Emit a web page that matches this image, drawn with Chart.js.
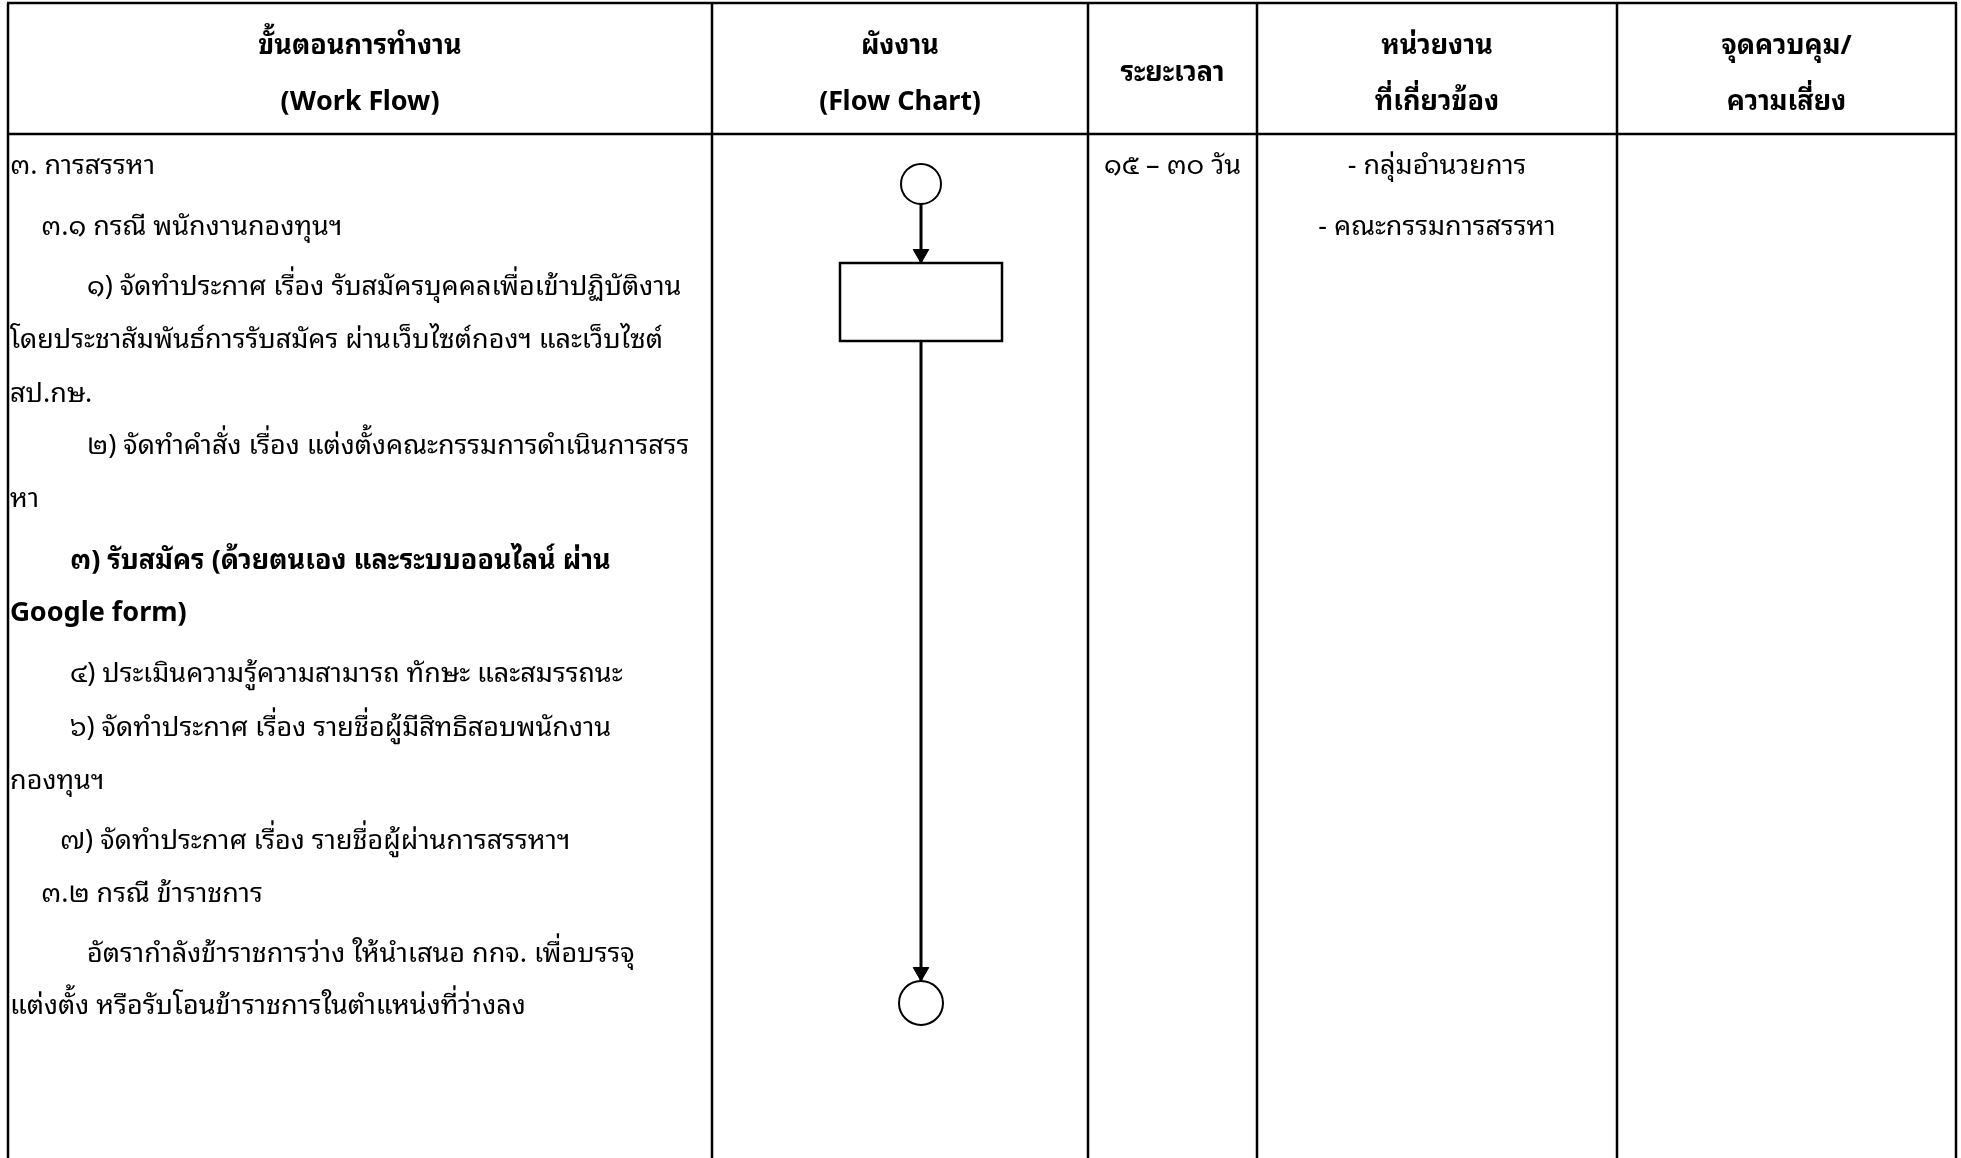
<!DOCTYPE html>
<html><head><meta charset="utf-8">
<script src="https://cdn.jsdelivr.net/npm/chart.js@4/dist/chart.umd.min.js"></script>
<style>html,body{margin:0;padding:0;background:#fff;overflow:hidden}#wrap{width:1961px;height:1158px}</style>
</head><body><div id="wrap"><canvas id="c" width="1961" height="1158"></canvas></div>
<script>
// ---- content ----
const headerTitles = [
  ["ขั้นตอนการทำงาน", "(Work Flow)"],
  ["ผังงาน", "(Flow Chart)"],
  ["ระยะเวลา"],
  ["หน่วยงาน", "ที่เกี่ยวข้อง"],
  ["จุดควบคุม/", "ความเสี่ยง"]
];
const workFlowLines = [
  "๓. การสรรหา",
  "๓.๑ กรณี พนักงานกองทุนฯ",
  "๑) จัดทำประกาศ เรื่อง รับสมัครบุคคลเพื่อเข้าปฏิบัติงาน",
  "โดยประชาสัมพันธ์การรับสมัคร ผ่านเว็บไซต์กองฯ และเว็บไซต์",
  "สป.กษ.",
  "๒) จัดทำคำสั่ง เรื่อง แต่งตั้งคณะกรรมการดำเนินการสรร",
  "หา",
  "๓) รับสมัคร (ด้วยตนเอง และระบบออนไลน์ ผ่าน",
  "Google form)",
  "๔) ประเมินความรู้ความสามารถ ทักษะ และสมรรถนะ",
  "๖) จัดทำประกาศ เรื่อง รายชื่อผู้มีสิทธิสอบพนักงาน",
  "กองทุนฯ",
  "๗) จัดทำประกาศ เรื่อง รายชื่อผู้ผ่านการสรรหาฯ",
  "๓.๒ กรณี ข้าราชการ",
  "อัตรากำลังข้าราชการว่าง ให้นำเสนอ กกจ. เพื่อบรรจุ",
  "แต่งตั้ง หรือรับโอนข้าราชการในตำแหน่งที่ว่างลง"
];
const workFlowBold = [0,0,0,0,0,0,0,1,1,0,0,0,0,0,0,0];
const workFlowIndentLevel = [0,1,4,0,0,4,0,3,0,3,3,0,2,1,4,0];
const durationLines = ["๑๕ – ๓๐ วัน"];
const unitLines = ["- กลุ่มอำนวยการ", "- คณะกรรมการสรรหา"];
const flowNodes = ["start", "process", "end"];

// ---- layout (reference pixel units, mapped through the chart scales) ----
const L = {
  W: 1961, H: 1158,
  colEdges: [8, 712, 1088, 1257, 1617, 1956],
  top: 3, headerBottom: 134,
  headerLineY: [[46, 102], [46, 102], [73], [46, 102], [46, 102]],
  bodyLineY: [166, 227, 287, 340, 394, 446, 499, 561, 613, 674, 728, 781, 841, 894, 954, 1006],
  indentPx: [0, 31, 50, 60, 77],
  textPad: 2,
  nodeX: 921,
  nodeY: { start: 184, process: 302, end: 1003 },
  circleR: 22, rectW: 162, rectH: 78,
  arrowR: 9,
  font: '"Noto Sans Thai Looped","Loma","Tahoma","Garuda","Noto Sans Thai","Noto Sans","DejaVu Sans",sans-serif',
  fontSize: 27
};

const rectTop = L.nodeY.process - L.rectH / 2, rectBot = L.nodeY.process + L.rectH / 2;

const tablePlugin = {
  id: 'tablePlugin',
  beforeDatasetsDraw(chart) {
    const ctx = chart.ctx, xs = chart.scales.x, ys = chart.scales.y;
    const X = v => xs.getPixelForValue(v), Y = v => ys.getPixelForValue(v);
    ctx.save();
    ctx.fillStyle = '#fff';
    ctx.fillRect(0, 0, chart.width, chart.height);
    ctx.strokeStyle = '#000';
    ctx.lineWidth = 2.5;
    ctx.beginPath();
    const e = L.colEdges;
    ctx.moveTo(X(e[0]) - 1, Y(L.top)); ctx.lineTo(X(e[e.length - 1]) + 1, Y(L.top));
    ctx.moveTo(X(e[0]) - 1, Y(L.headerBottom)); ctx.lineTo(X(e[e.length - 1]) + 1, Y(L.headerBottom));
    e.forEach(v => { ctx.moveTo(X(v), Y(L.top)); ctx.lineTo(X(v), Y(L.H)); });
    ctx.stroke();
    // process box
    ctx.lineWidth = 2.5;
    ctx.strokeRect(X(L.nodeX - L.rectW / 2), Y(rectTop), X(L.rectW) - X(0), Y(rectBot) - Y(rectTop));

    ctx.fillStyle = '#000';
    ctx.textBaseline = 'middle';
    ctx.textAlign = 'center';
    ctx.font = 'bold ' + L.fontSize + 'px ' + L.font;
    headerTitles.forEach((lines, i) => {
      const cx = (e[i] + e[i + 1]) / 2;
      lines.forEach((t, j) => ctx.fillText(t, X(cx), Y(L.headerLineY[i][j])));
    });
    ctx.textAlign = 'left';
    workFlowLines.forEach((t, i) => {
      ctx.font = (workFlowBold[i] ? 'bold ' : '') + L.fontSize + 'px ' + L.font;
      ctx.fillText(t, X(e[0] + L.textPad + L.indentPx[workFlowIndentLevel[i]]), Y(L.bodyLineY[i]));
    });
    ctx.font = L.fontSize + 'px ' + L.font;
    ctx.textAlign = 'center';
    durationLines.forEach((t, i) => ctx.fillText(t, X((e[2] + e[3]) / 2), Y(L.bodyLineY[i])));
    unitLines.forEach((t, i) => ctx.fillText(t, X((e[3] + e[4]) / 2), Y(L.bodyLineY[i])));
    ctx.restore();
  }
};

new Chart(document.getElementById('c'), {
  type: 'scatter',
  data: {
    datasets: [
      { type: 'line', data: [{x: L.nodeX, y: L.nodeY.start + 20}, {x: L.nodeX, y: rectTop}], borderColor: '#000', borderWidth: 3, pointRadius: 0, order: 3 },
      { type: 'line', data: [{x: L.nodeX, y: rectBot}, {x: L.nodeX, y: L.nodeY.end - L.circleR}], borderColor: '#000', borderWidth: 3, pointRadius: 0, order: 3 },
      { data: [{x: L.nodeX, y: rectTop - L.arrowR}, {x: L.nodeX, y: L.nodeY.end - L.circleR - L.arrowR}], pointStyle: 'triangle', rotation: 180, pointRadius: L.arrowR, backgroundColor: '#000', borderColor: '#000', borderWidth: 1, order: 2 },
      { data: [{x: L.nodeX, y: L.nodeY.start}, {x: L.nodeX, y: L.nodeY.end}], pointStyle: 'circle', pointRadius: [20, 22], backgroundColor: '#fff', borderColor: '#000', borderWidth: 2, order: 1 }
    ]
  },
  options: {
    responsive: false, animation: false, devicePixelRatio: 1,
    layout: { padding: 0, autoPadding: false },
    plugins: { legend: { display: false }, tooltip: { enabled: false } },
    scales: {
      x: { type: 'linear', min: 0, max: L.W, display: false },
      y: { type: 'linear', min: 0, max: L.H, reverse: true, display: false }
    }
  },
  plugins: [tablePlugin]
});
</script></body></html>
